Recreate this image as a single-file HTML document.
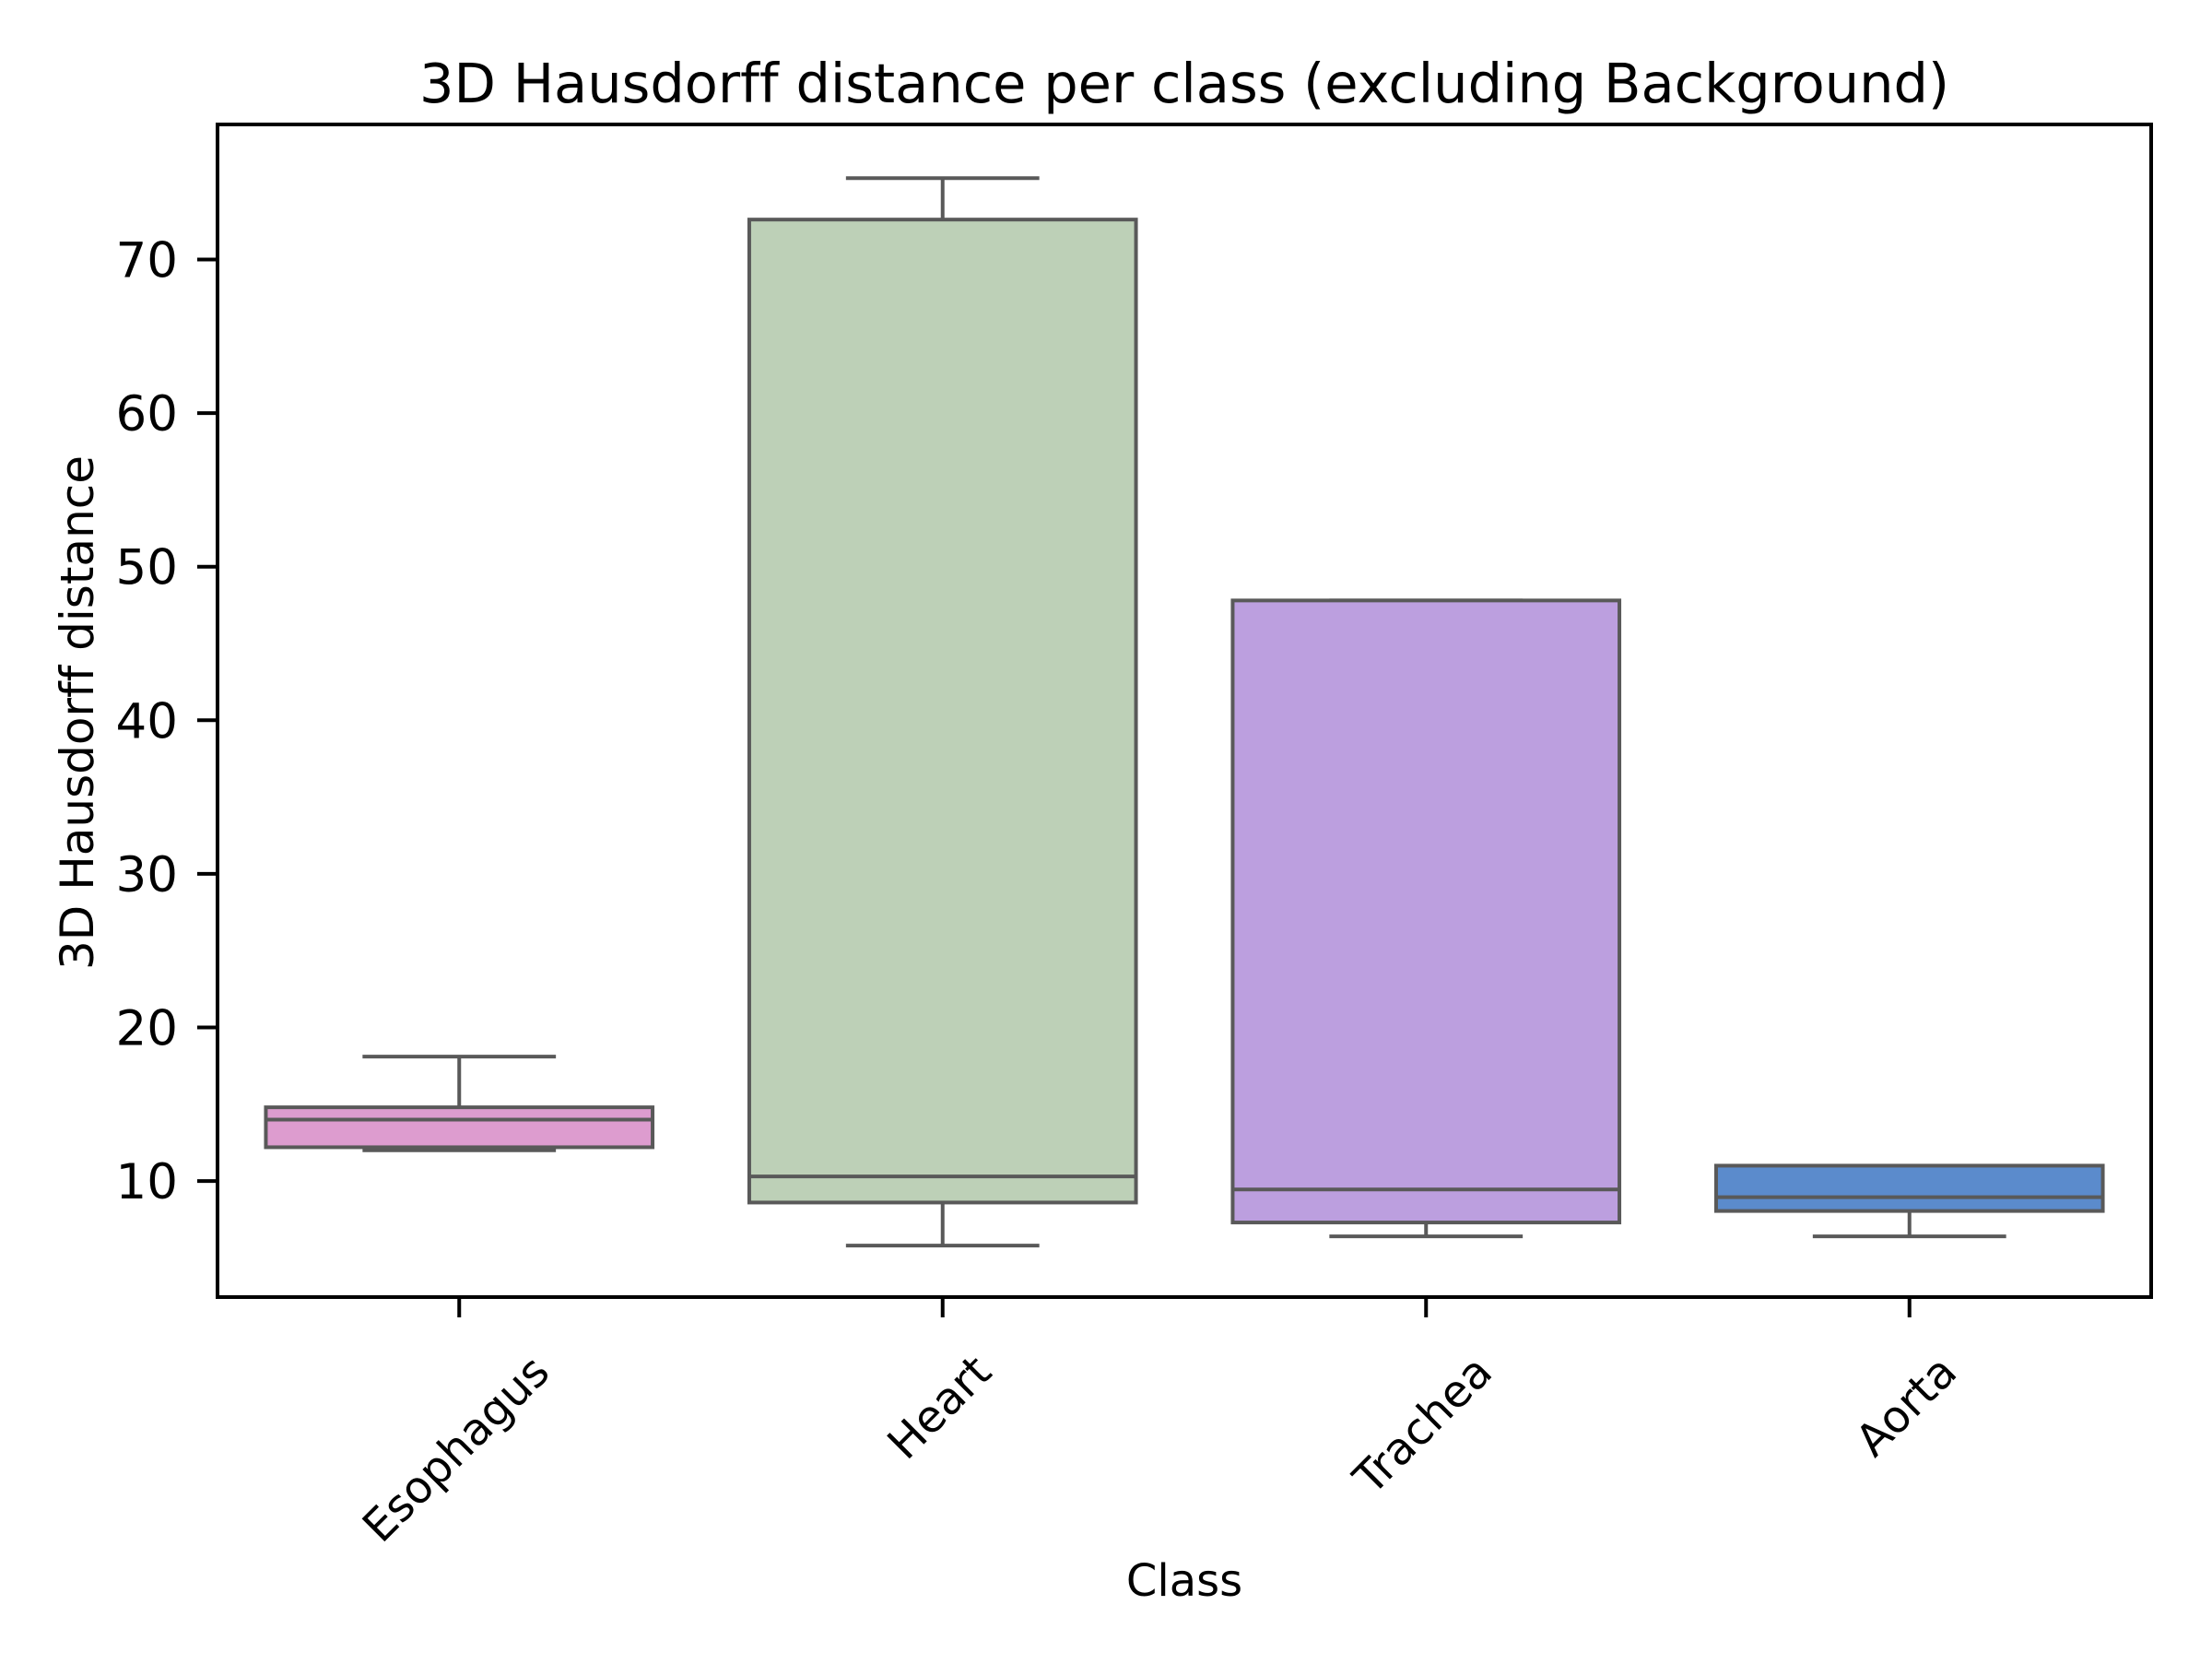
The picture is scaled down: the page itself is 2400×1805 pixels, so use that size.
<!DOCTYPE html>
<html><head><meta charset="utf-8"><style>
html,body{margin:0;padding:0;background:#fff}
svg text{font-family:"DejaVu Sans","Liberation Sans",sans-serif;fill:#000;font-variant-ligatures:none}
</style></head><body>
<svg id="chart" width="2400" height="1800" viewBox="0 0 2400 1800" xmlns="http://www.w3.org/2000/svg">
<rect x="0" y="0" width="2400" height="1800" fill="#fff"/>
<g id="plot"></g>
<text x="1285" y="111" font-size="59" text-anchor="middle">3D Hausdorff distance per class (excluding Background)</text>
<text x="1285" y="1731" font-size="48" text-anchor="middle">Class</text>
<text x="0" y="0" font-size="50" text-anchor="middle" transform="translate(101,773) rotate(-90)">3D Hausdorff distance</text>
</svg>
<script>
const categories = ["Esophagus","Heart","Trachea","Aorta"];
const whiskerLow = [12.0, 5.8, 6.4, 6.4];
const q1Values = [12.2, 8.6, 7.3, 8.05];
const medianValues = [14.0, 10.3, 9.45, 8.95];
const q3Values = [14.8, 72.6, 47.8, 11.0];
const whiskerHigh = [18.1, 75.3, 47.8, 11.0];
const colors = ["#dd9ccf","#bdd0b7","#bc9fdf","#5b8bcc"];
const yTicks = [10,20,30,40,50,60,70];

const NS = "http://www.w3.org/2000/svg";
const L = 236, R = 2334, T = 135, B = 1407;
function yScale(v){ return 1281.1 - (v - 10) * 16.66; }
const step = (R - L) / categories.length;
function xScale(i){ return L + step * (i + 0.5); }
const boxW = step * 0.8;
const plot = document.getElementById('plot');
function mk(tag, attrs){ const e = document.createElementNS(NS, tag); for (const k in attrs) e.setAttribute(k, attrs[k]); plot.appendChild(e); return e; }
const edge = "#595959", lw = 4;

categories.forEach((c, i) => {
  const cx = xScale(i);
  let e;
  e = mk('line', {x1: cx, x2: cx, y1: yScale(q3Values[i]), y2: yScale(whiskerHigh[i]), stroke: edge, 'stroke-width': lw});
  
  
  e = mk('line', {x1: cx, x2: cx, y1: yScale(q1Values[i]), y2: yScale(whiskerLow[i]), stroke: edge, 'stroke-width': lw});
  
  
  e = mk('line', {x1: cx - boxW / 4, x2: cx + boxW / 4, y1: yScale(whiskerHigh[i]), y2: yScale(whiskerHigh[i]), stroke: edge, 'stroke-width': lw});
  
  
  e = mk('line', {x1: cx - boxW / 4, x2: cx + boxW / 4, y1: yScale(whiskerLow[i]), y2: yScale(whiskerLow[i]), stroke: edge, 'stroke-width': lw});
  
  
  const yt = yScale(q3Values[i]), yb = yScale(q1Values[i]);
  e = mk('rect', {x: cx - boxW / 2, y: yt, width: boxW, height: yb - yt, fill: colors[i], stroke: edge, 'stroke-width': lw});
  
  
  e = mk('line', {x1: cx - boxW / 2, x2: cx + boxW / 2, y1: yScale(medianValues[i]), y2: yScale(medianValues[i]), stroke: edge, 'stroke-width': lw});
  
  
  e = mk('line', {x1: cx, x2: cx, y1: B, y2: B + 22, stroke: '#000', 'stroke-width': 4});
  
  
  const t = mk('text', {x: 0, y: 0, 'font-size': 48, 'text-anchor': 'middle'});
  t.textContent = c;
  
  
  const w = t.getComputedTextLength();
  const bh = (w + 48) * 0.7071;
  const cy = 1462 + bh / 2;
  t.setAttribute('transform', 'translate(' + (cx - 4) + ',' + cy + ') rotate(-45) translate(0,17)');
});

yTicks.forEach(v => {
  const y = yScale(v);
  let e = mk('line', {x1: L - 22, x2: L, y1: y, y2: y, stroke: '#000', 'stroke-width': 4});
  
  
  const t = mk('text', {x: L - 43, y: y + 19, 'font-size': 53, 'text-anchor': 'end'});
  t.textContent = v;
  
  
});

const frame = mk('rect', {x: L, y: T, width: R - L, height: B - T, fill: 'none', stroke: '#000', 'stroke-width': 4});


</script>
</body></html>
